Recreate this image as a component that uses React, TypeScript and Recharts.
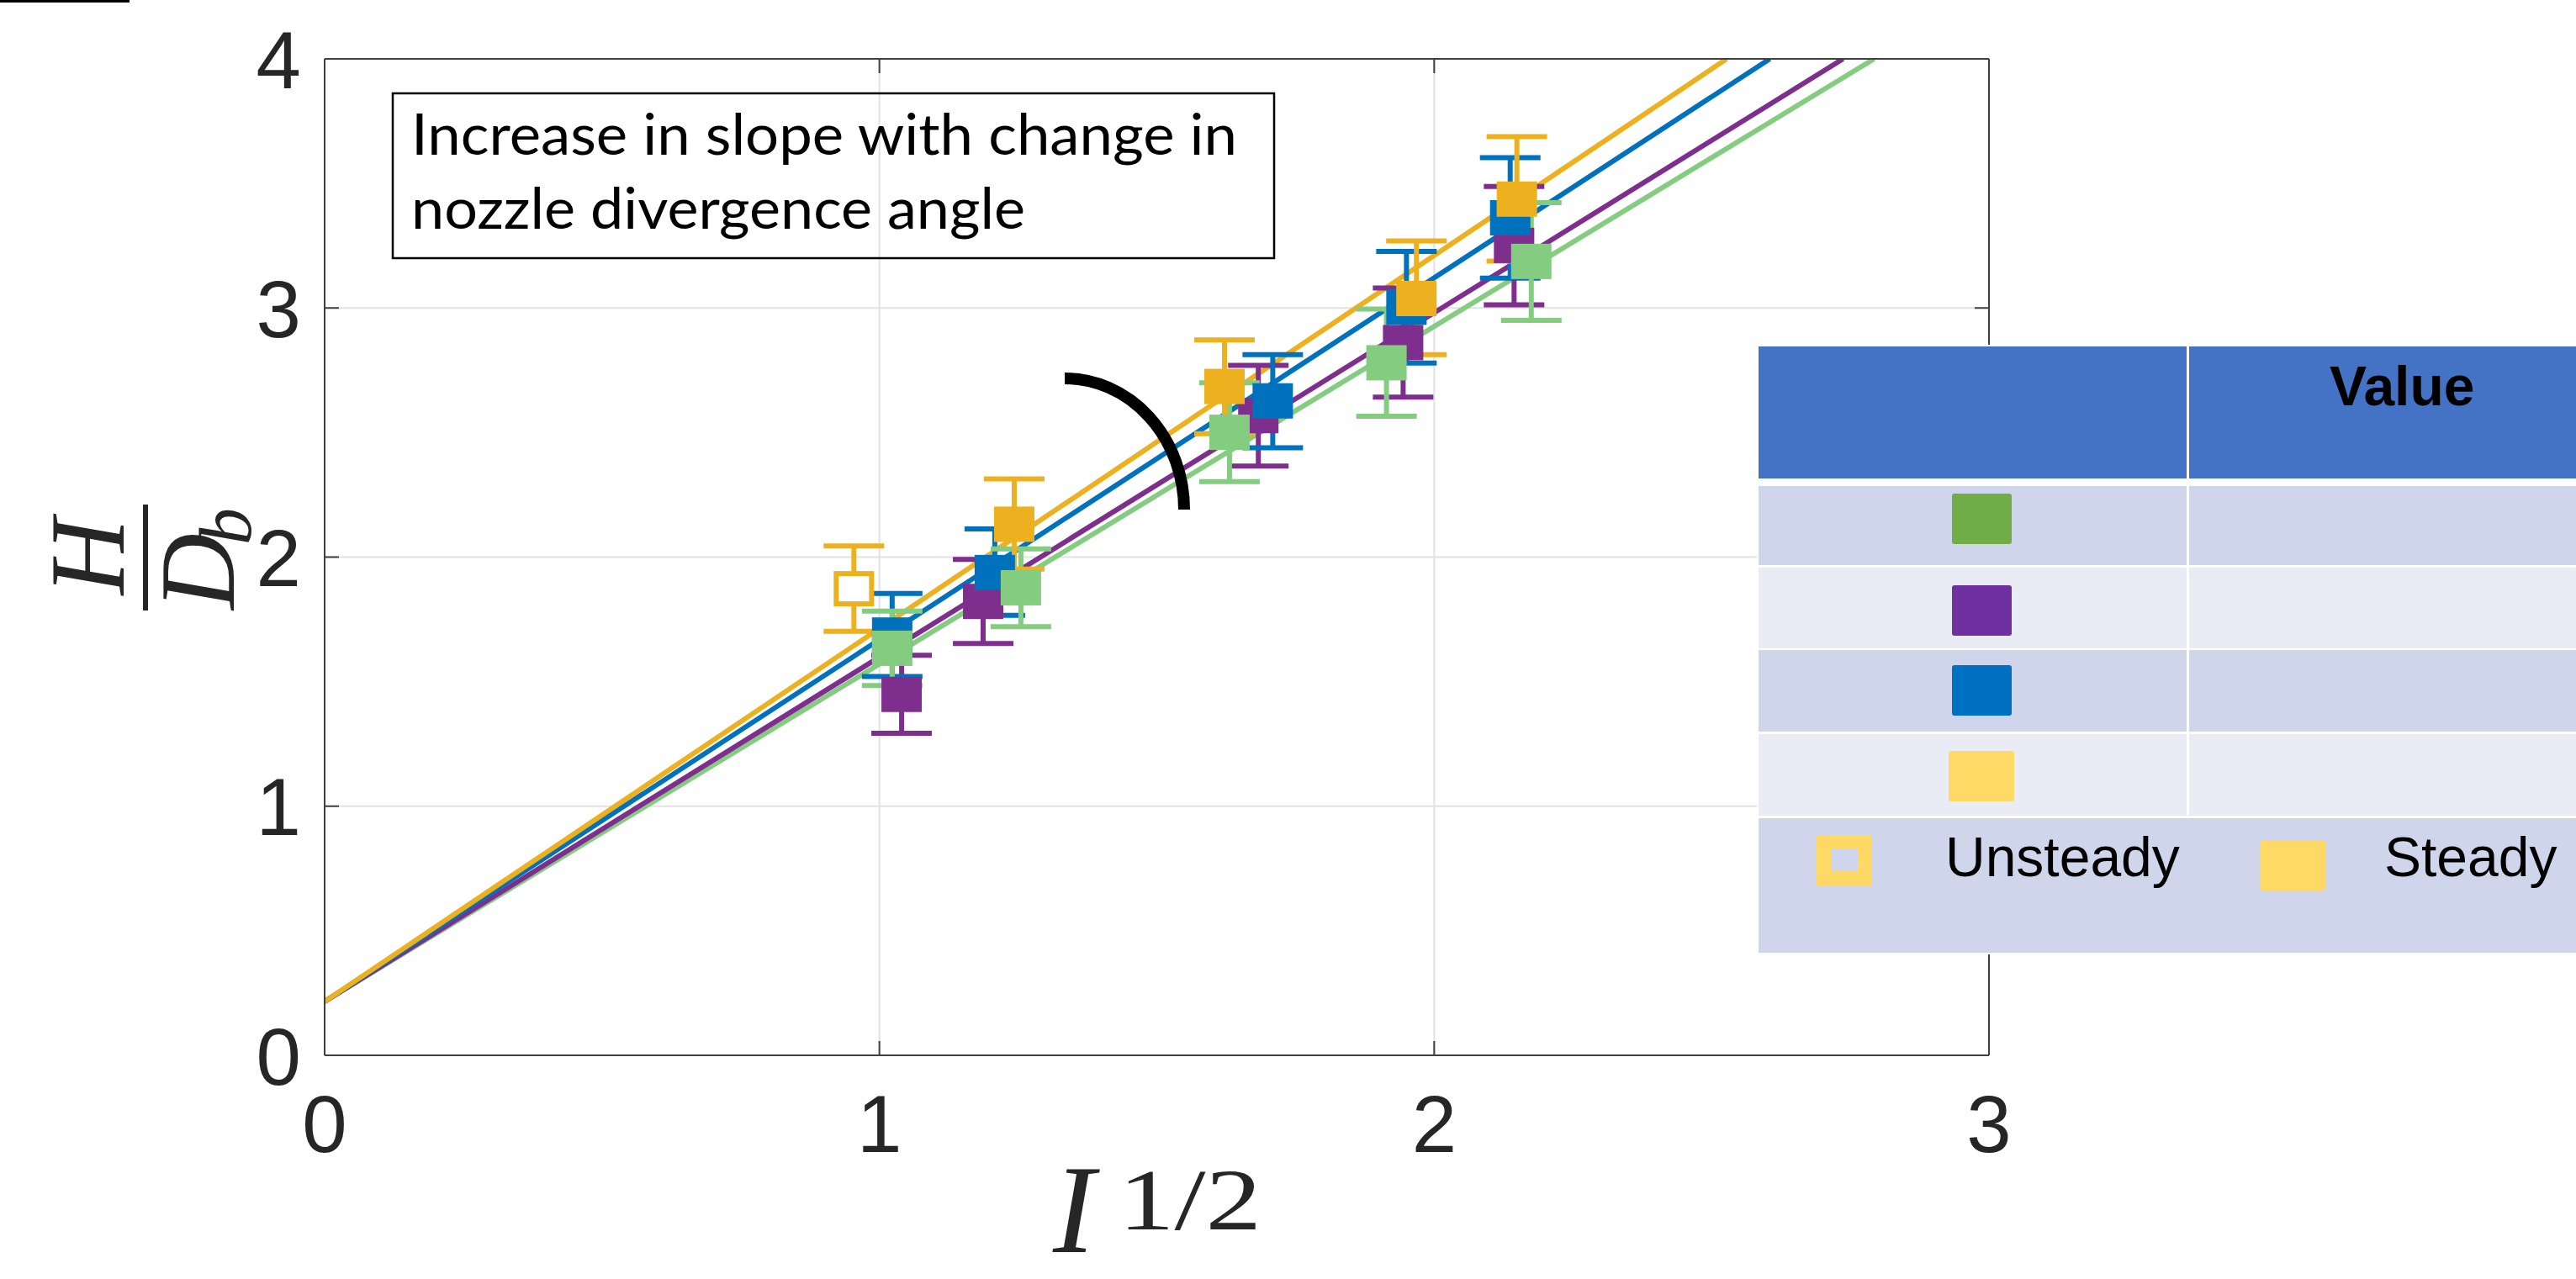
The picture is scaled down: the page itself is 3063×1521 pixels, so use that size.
import React from 'react';
import { ComposedChart, Line, Scatter, ErrorBar, XAxis, YAxis, CartesianGrid } from 'recharts';

// ---- data ----
const xTicks = [0, 1, 2, 3];
const yTicks = [0, 1, 2, 3, 4];

// fitted lines (start / end where they leave the top of the axes)
const yellowFit = [{ x: 0, y: 0.216 }, { x: 2.527, y: 4 }];
const blueFit = [{ x: 0, y: 0.216 }, { x: 2.605, y: 4 }];
const purpleFit = [{ x: 0, y: 0.216 }, { x: 2.737, y: 4 }];
const greenFit = [{ x: 0, y: 0.216 }, { x: 2.793, y: 4 }];

// measured points, err = [below, above]
const yellowUnsteady = [{ x: 0.954, y: 1.873, err: [0.171, 0.172] }];
const yellowSteady = [
  { x: 1.243, y: 2.132, err: [0.18, 0.182] },
  { x: 1.622, y: 2.685, err: [0.19, 0.187] },
  { x: 1.968, y: 3.038, err: [0.225, 0.231] },
  { x: 2.149, y: 3.437, err: [0.249, 0.251] },
];
const blueSteady = [
  { x: 1.023, y: 1.687, err: [0.166, 0.167] },
  { x: 1.208, y: 1.938, err: [0.172, 0.175] },
  { x: 1.709, y: 2.627, err: [0.188, 0.186] },
  { x: 1.95, y: 3.003, err: [0.224, 0.224] },
  { x: 2.137, y: 3.362, err: [0.242, 0.241] },
];
const purpleSteady = [
  { x: 1.04, y: 1.449, err: [0.156, 0.157] },
  { x: 1.187, y: 1.822, err: [0.169, 0.169] },
  { x: 1.683, y: 2.568, err: [0.203, 0.202] },
  { x: 1.944, y: 2.861, err: [0.219, 0.219] },
  { x: 2.144, y: 3.251, err: [0.238, 0.237] },
];
const greenSteady = [
  { x: 1.023, y: 1.634, err: [0.15, 0.149] },
  { x: 1.255, y: 1.877, err: [0.156, 0.156] },
  { x: 1.631, y: 2.501, err: [0.198, 0.199] },
  { x: 1.914, y: 2.78, err: [0.215, 0.216] },
  { x: 2.175, y: 3.187, err: [0.237, 0.236] },
];

const annotationText = ['Increase in slope with change in', 'nozzle divergence angle'];
const tableHeader = 'Value';
const legendLabels = ['Unsteady', 'Steady'];

// ---- styles ----
const YELLOW = '#EDB120';
const BLUE = '#0072BD';
const PURPLE = '#7E2F8E';
const GREEN = '#84CC80';
const AXIS = '#404040';
const TXT = '#262626';
const SANS = '"Liberation Sans", Arial, Helvetica, sans-serif';
const SERIF = '"Liberation Serif", "Times New Roman", serif';

const W = 3063;
const H = 1521;

const filledSquare = (color: string) => (p: any) => (
  <rect x={p.cx - 24} y={p.cy - 21} width={48} height={42} fill={color} />
);
const hollowSquare = (color: string) => (p: any) => (
  <rect x={p.cx - 21} y={p.cy - 18} width={42} height={36} fill="#ffffff" stroke={color} strokeWidth={6} />
);

const YTick = (p: any) => (
  <g>
    <line x1={p.x} x2={p.x + 17} y1={p.y} y2={p.y} stroke={AXIS} strokeWidth={2} />
    <text x={p.x - 28} y={p.y} dy="0.36em" textAnchor="end" fontSize={96} fontFamily={SANS} fill={TXT}>
      {p.payload.value}
    </text>
  </g>
);
const XTick = (p: any) => (
  <g>
    <line x1={p.x} x2={p.x} y1={p.y} y2={p.y - 17} stroke={AXIS} strokeWidth={2} />
    <text x={p.x} y={p.y + 115} textAnchor="middle" fontSize={96} fontFamily={SANS} fill={TXT}>
      {p.payload.value}
    </text>
  </g>
);
const NoTick = () => <g />;

const series = [
  { data: purpleSteady, color: PURPLE, hollow: false },
  { data: blueSteady, color: BLUE, hollow: false },
  { data: greenSteady, color: GREEN, hollow: false },
  { data: yellowSteady, color: YELLOW, hollow: false },
  { data: yellowUnsteady, color: YELLOW, hollow: true },
];
const fits = [
  { data: greenFit, color: GREEN },
  { data: purpleFit, color: PURPLE },
  { data: blueFit, color: BLUE },
  { data: yellowFit, color: YELLOW },
];

const Overlay = () => (
  <svg width={W} height={H} style={{ position: 'absolute', left: 0, top: 0, pointerEvents: 'none' }}>
    {/* stray bar top-left */}
    <rect x={0} y={0} width={154} height={3} fill="#000" />

    {/* annotation box */}
    <rect x={467} y={111} width={1048} height={196} fill="none" stroke="#000" strokeWidth={2.5} />
    <text x={489} y={184} fontSize={68} fontFamily="Lato, 'Open Sans', sans-serif" fill="#000" textLength={982} lengthAdjust="spacingAndGlyphs">
      {annotationText[0]}
    </text>
    <text x={489} y={272} fontSize={68} fontFamily="Lato, 'Open Sans', sans-serif" fill="#000" textLength={730} lengthAdjust="spacingAndGlyphs">
      {annotationText[1]}
    </text>

    {/* arc */}
    <path d="M 1266 450 A 142 156 0 0 1 1408 606" fill="none" stroke="#000" strokeWidth={14} />

    {/* y label H / D_b rotated */}
    <g transform="translate(173,663) rotate(-90)">
      <text x={1} y={-26} textAnchor="middle" fontSize={126} fontStyle="italic" fontFamily={SERIF} fill={TXT}>H</text>
      <line x1={-63} x2={63} y1={0} y2={0} stroke={TXT} strokeWidth={6} />
      <text x={-62} y={105} fontSize={126} fontStyle="italic" fontFamily={SERIF} fill={TXT}>
        D<tspan fontSize={88} dx={-14} dy={20}>b</tspan>
      </text>
    </g>

    {/* x label I^{1/2} */}
    <text x={1252} y={1489} fontSize={150} fontStyle="italic" fontFamily={SERIF} fill={TXT}>I</text>
    <text x={1330} y={1462} fontSize={104} fontFamily={SERIF} fill={TXT} textLength={170} lengthAdjust="spacingAndGlyphs">1/2</text>

    {/* legend table */}
    <rect x={2089} y={410} width={980} height={725} fill="#ffffff" />
    <rect x={2091} y={412} width={509} height={157} fill="#4472C4" />
    <rect x={2603} y={412} width={470} height={157} fill="#4472C4" />
    <text x={2770} y={482} fontSize={66} fontWeight="bold" fontFamily={SANS} fill="#000">{tableHeader}</text>

    <rect x={2091} y={578} width={509} height={94} fill="#CFD5EA" />
    <rect x={2603} y={578} width={470} height={94} fill="#CFD5EA" />
    <rect x={2091} y={675} width={509} height={96} fill="#E9EBF5" />
    <rect x={2603} y={675} width={470} height={96} fill="#E9EBF5" />
    <rect x={2091} y={773} width={509} height={97} fill="#CFD5EA" />
    <rect x={2603} y={773} width={470} height={97} fill="#CFD5EA" />
    <rect x={2091} y={873} width={509} height={97} fill="#E9EBF5" />
    <rect x={2603} y={873} width={470} height={97} fill="#E9EBF5" />
    <rect x={2091} y={973} width={982} height={160} fill="#CFD5EA" />

    <rect x={2321} y={587} width={71} height={60} rx={3} fill="#70AD47" />
    <rect x={2321} y={696} width={71} height={60} rx={3} fill="#7030A0" />
    <rect x={2321} y={791} width={71} height={60} rx={3} fill="#0070C0" />
    <rect x={2317} y={893} width={78} height={60} rx={3} fill="#FFD966" />

    <rect x={2168.5} y={1001.5} width={49} height={43} fill="none" stroke="#FFD966" strokeWidth={17} />
    <text x={2313} y={1042} fontSize={66} fontFamily={SANS} fill="#000">{legendLabels[0]}</text>
    <rect x={2687} y={1000} width={78} height={59} rx={3} fill="#FFD966" />
    <text x={2835} y={1042} fontSize={66} fontFamily={SANS} fill="#000">{legendLabels[1]}</text>
  </svg>
);

export default function App() {
  return (
    <div style={{ position: 'absolute', left: 0, top: 0, width: W, height: H, overflow: 'hidden', background: '#ffffff' }}>
      <ComposedChart width={W} height={H} margin={{ top: 70, right: 698, bottom: 265, left: 385 }}>
        <CartesianGrid stroke="#E2E2E2" strokeWidth={2} />
        <XAxis
          dataKey="x"
          type="number"
          domain={[0, 3]}
          ticks={xTicks}
          interval={0}
          height={1}
          tickSize={0}
          tickMargin={0}
          tickLine={false}
          allowDataOverflow
          axisLine={{ stroke: AXIS, strokeWidth: 2 }}
          tick={(p: any) => <XTick {...p} />}
        />
        <YAxis
          type="number"
          domain={[0, 4]}
          ticks={yTicks}
          interval={0}
          width={1}
          tickSize={0}
          tickMargin={0}
          tickLine={false}
          allowDataOverflow
          axisLine={{ stroke: AXIS, strokeWidth: 2 }}
          tick={(p: any) => <YTick {...p} />}
        />
        <XAxis
          xAxisId="top"
          orientation="top"
          dataKey="x"
          type="number"
          domain={[0, 3]}
          ticks={xTicks}
          interval={0}
          height={1}
          mirror
          tickSize={17}
          allowDataOverflow
          axisLine={{ stroke: AXIS, strokeWidth: 2 }}
          tickLine={{ stroke: AXIS, strokeWidth: 2 }}
          tick={NoTick}
        />
        <YAxis
          yAxisId="right"
          orientation="right"
          type="number"
          domain={[0, 4]}
          ticks={yTicks}
          interval={0}
          width={1}
          mirror
          tickSize={17}
          allowDataOverflow
          axisLine={{ stroke: AXIS, strokeWidth: 2 }}
          tickLine={{ stroke: AXIS, strokeWidth: 2 }}
          tick={NoTick}
        />
        {fits.map((f, i) => (
          <Line
            key={'fit' + i}
            data={f.data}
            dataKey="y"
            type="linear"
            stroke={f.color}
            strokeWidth={6}
            dot={false}
            activeDot={false}
            isAnimationActive={false}
          />
        ))}
        {series.map((s, i) => (
          <Scatter
            key={'s' + i}
            data={s.data}
            dataKey="y"
            fill={s.color}
            shape={s.hollow ? hollowSquare(s.color) : filledSquare(s.color)}
            isAnimationActive={false}
          >
            <ErrorBar dataKey="err" direction="y" width={36} strokeWidth={6} stroke={s.color} isAnimationActive={false} />
          </Scatter>
        ))}
      </ComposedChart>
      <Overlay />
    </div>
  );
}
